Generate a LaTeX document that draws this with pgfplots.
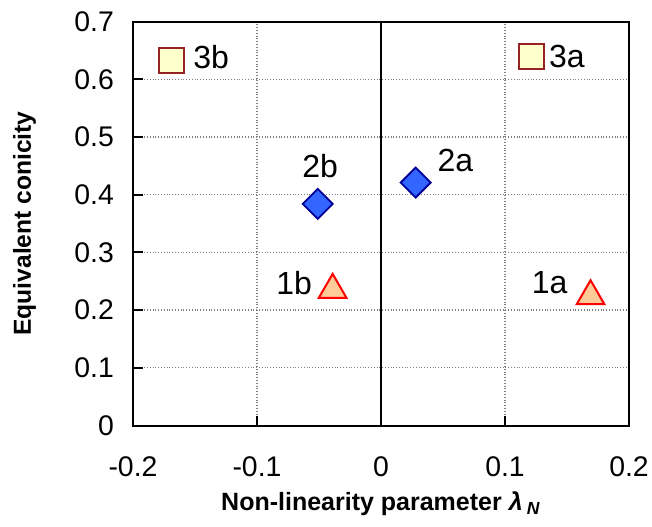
\documentclass[border=0pt]{standalone}
\usepackage{pgfplots}
\pgfplotsset{compat=1.18}
\usepackage{fontspec}
\setmainfont{Liberation Sans}
\definecolor{sqfill}{HTML}{FFFFCC}
\definecolor{sqedge}{RGB}{150,35,35}
\definecolor{dmfill}{HTML}{3366FF}
\definecolor{dmedge}{HTML}{000099}
\definecolor{trfill}{HTML}{FFCC99}
\definecolor{tredge}{HTML}{FF0000}
\begin{document}
\begin{tikzpicture}
\useasboundingbox (-66.5pt,-50.25pt) rectangle (259.5pt,212.75pt);
\begin{axis}[
  at={(0,0)}, anchor=south west,
  scale only axis, width=248pt, height=202pt,
  xmin=-0.2, xmax=0.2, ymin=0, ymax=0.7,
  xtick={-0.2,-0.1,0,0.1,0.2},
  ytick={0,0.1,0.2,0.3,0.4,0.5,0.6,0.7},
  xtick pos=left, ytick pos=left,
  tick align=inside, major tick length=5pt,
  tick style={black, line width=0.9pt},
  axis line style={black, line width=1pt},
  grid=major,
  major grid style={densely dotted, gray, line width=0.6pt},
  /pgf/number format/assume math mode=true,
  /pgf/number format/fixed,
  tick label style={font=\fontsize{14.2}{16}\selectfont},
  yticklabel style={xshift=-6pt},
  xticklabel style={yshift=-12pt},
  clip=false,
]
\draw[black, line width=0.9pt] (axis cs:0,0) -- (axis cs:0,0.7);
% squares
\addplot[only marks, mark=square*, mark size=6.25pt,
  mark options={fill=sqfill, draw=sqedge, line width=1pt}]
  coordinates {(-0.169,0.632) (0.121,0.639)};
% diamonds
\addplot[only marks, mark=square*, mark size=5.3pt,
  mark options={rotate=45, fill=dmfill, draw=dmedge, line width=0.9pt}]
  coordinates {(-0.051,0.384) (0.028,0.421)};
% triangles
\addplot[only marks, mark=triangle*, mark size=8pt,
  mark options={fill=trfill, draw=tredge, line width=1pt}]
  coordinates {(-0.039,0.235) (0.169,0.224)};
\begin{scope}[every node/.style={font=\fontsize{16}{18}\selectfont, inner sep=0pt}]
\node at (axis cs:-0.137,0.639) {3b};
\node at (axis cs:0.150,0.640) {3a};
\node at (axis cs:-0.049,0.450) {2b};
\node at (axis cs:0.060,0.459) {2a};
\node at (axis cs:-0.070,0.246) {1b};
\node at (axis cs:0.136,0.247) {1a};
\end{scope}
\node[font=\bfseries\fontsize{12.5}{14}\selectfont, anchor=base] at (124pt,-42.5pt) {Non-linearity parameter \textit{λ}\,\textsubscript{\textit{N}}};
\node[font=\bfseries\fontsize{12.3}{14}\selectfont, anchor=base, rotate=90] at (-51pt,101pt) {Equivalent conicity};
\end{axis}
\end{tikzpicture}
\end{document}
